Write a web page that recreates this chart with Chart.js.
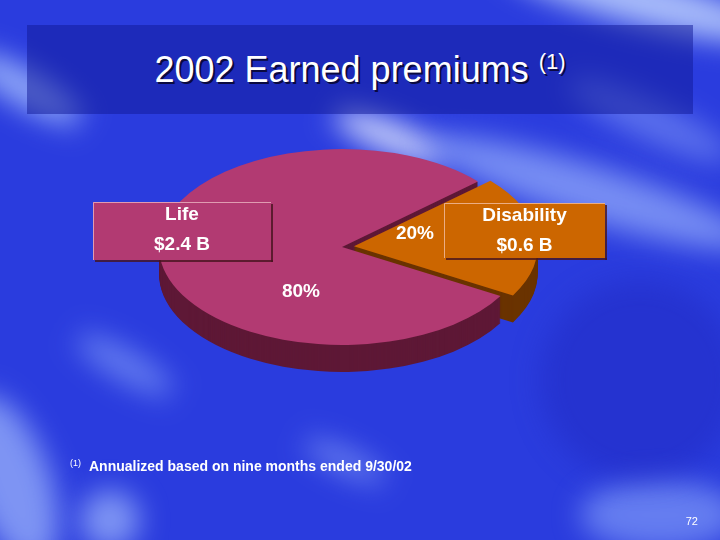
<!DOCTYPE html>
<html lang="en">
<head>
  <meta charset="UTF-8">
  <title>2002 Earned premiums</title>
  <script src="https://cdn.jsdelivr.net/npm/chart.js"></script>
  <style>
    html, body { margin: 0; padding: 0; }
    body { width: 720px; height: 540px; overflow: hidden; position: relative;
           font-family: "Liberation Sans", Arial, sans-serif; color: #fff;
           background: #2a3cde; }
    .glow { position: absolute; border-radius: 50%; filter: blur(14px); }
    #title-box { position: absolute; left: 27px; top: 25px; width: 666px; height: 89px;
                 background: rgba(16, 24, 150, 0.5); display: flex;
                 align-items: center; justify-content: center; }
    #title { font-size: 36px; text-shadow: 2px 2px 0 #0a0a40; white-space: nowrap; }
    #title sup { font-size: 22px; vertical-align: 0; position: relative; top: -13px; }
    #pie { position: absolute; left: 0; top: 0; }
    #note { position: absolute; left: 70px; top: 458px; font-size: 14px; font-weight: bold;
            line-height: 16px; white-space: nowrap; }
    #note sup { font-size: 9px; font-weight: normal; vertical-align: 0; position: relative;
                top: -5px; margin-right: 8px; }
    #page { position: absolute; right: 22px; top: 515px; font-size: 11px; }
  </style>
</head>
<body>
  <div class="glow" style="left:-40px; top:70px; width:130px; height:36px; background:rgba(170,195,255,.8); transform:rotate(30deg)"></div>
  <div class="glow" style="left:500px; top:-25px; width:280px; height:50px; background:rgba(190,210,255,.85); transform:rotate(14deg)"></div>
  <div class="glow" style="left:330px; top:122px; width:120px; height:30px; background:rgba(225,232,255,.9); transform:rotate(22deg)"></div>
  <div class="glow" style="left:420px; top:165px; width:340px; height:55px; background:rgba(160,185,255,.65); transform:rotate(17deg)"></div>
  <div class="glow" style="left:560px; top:100px; width:180px; height:40px; background:rgba(150,175,255,.45); transform:rotate(25deg)"></div>
  <div class="glow" style="left:-30px; top:390px; width:80px; height:180px; background:rgba(170,195,255,.65); transform:rotate(-20deg)"></div>
  <div class="glow" style="left:70px; top:350px; width:110px; height:30px; background:rgba(150,178,255,.55); transform:rotate(30deg)"></div>
  <div class="glow" style="left:80px; top:490px; width:60px; height:60px; background:rgba(170,195,255,.65)"></div>
  <div class="glow" style="left:300px; top:450px; width:90px; height:22px; background:rgba(160,185,255,.55); transform:rotate(25deg)"></div>
  <div class="glow" style="left:580px; top:480px; width:160px; height:70px; background:rgba(150,178,255,.55)"></div>
  <div class="glow" style="left:540px; top:280px; width:200px; height:200px; background:rgba(30,40,190,.45)"></div>

  <div id="title-box"><div id="title">2002 Earned premiums <sup>(1)</sup></div></div>

  <canvas id="pie" width="720" height="540"></canvas>

  <div id="note"><sup>(1)</sup>Annualized based on nine months ended 9/30/02</div>
  <div id="page">72</div>

  <script>
    const categories = ['Life', 'Disability'];
    const premiums = [2.4, 0.6];                 // $ billions
    const premiumLabels = ['$2.4 B', '$0.6 B'];
    const topColors = ['#b23a72', '#cc6600'];
    const sideColors = ['#5e1836', '#6a3300'];

    const TILT = 0.535;   // vertical squash of the pie
    const DEPTH = 27;     // thickness in px

    // label boxes and percent positions (layout only)
    const boxes = [
      { x: 93, y: 202, w: 178, h: 58 },
      { x: 444, y: 203, w: 161, h: 55 }
    ];
    const pctPos = [{ x: 301, y: 292 }, { x: 415, y: 234 }];

    function squash(ctx, cx, cy, dy) {
      ctx.translate(cx, cy + dy);
      ctx.scale(1, TILT);
      ctx.translate(-cx, -cy);
    }

    const pie3d = {
      id: 'pie3d',
      beforeDatasetsDraw(chart) {
        const ctx = chart.ctx;
        const arcs = chart.getDatasetMeta(0).data;
        const cx = arcs[0].x, cy = arcs[0].y;
        // side walls: stack darker copies downwards
        for (let d = DEPTH; d > 0; d--) {
          arcs.forEach((arc, i) => {
            const side = Object.create(arc);
            side.options = Object.assign({}, arc.options, { backgroundColor: sideColors[i] });
            ctx.save();
            squash(ctx, cx, cy, d);
            arc.draw.call(side, ctx);
            ctx.restore();
          });
        }
        ctx.save();
        squash(ctx, cx, cy, 0);
      },
      afterDatasetsDraw(chart) {
        const ctx = chart.ctx;
        ctx.restore();
        const total = premiums.reduce((a, b) => a + b, 0);
        ctx.save();
        ctx.font = 'bold 19px "Liberation Sans", Arial, sans-serif';
        ctx.textAlign = 'center';
        ctx.textBaseline = 'middle';
        ctx.fillStyle = '#fff';
        premiums.forEach((v, i) => {
          ctx.fillText(Math.round(v / total * 100) + '%', pctPos[i].x, pctPos[i].y);
        });
        boxes.forEach((b, i) => {
          ctx.fillStyle = topColors[i];
          ctx.fillRect(b.x, b.y, b.w, b.h);
          ctx.fillStyle = 'rgba(70,20,30,0.8)';
          ctx.fillRect(b.x + 2, b.y + b.h, b.w, 2);
          ctx.fillRect(b.x + b.w, b.y + 2, 2, b.h);
          ctx.strokeStyle = 'rgba(255,220,220,0.6)';
          ctx.lineWidth = 1;
          ctx.beginPath();
          ctx.moveTo(b.x + 0.5, b.y + b.h);
          ctx.lineTo(b.x + 0.5, b.y + 0.5);
          ctx.lineTo(b.x + b.w, b.y + 0.5);
          ctx.stroke();
          ctx.fillStyle = '#fff';
          const tx = b.x + b.w / 2;
          ctx.fillText(categories[i], tx, b.y + 13);
          ctx.fillText(premiumLabels[i], tx, b.y + 43);
        });
        ctx.restore();
      }
    };

    new Chart(document.getElementById('pie'), {
      type: 'pie',
      data: {
        labels: categories,
        datasets: [{
          data: premiums,
          backgroundColor: topColors,
          borderWidth: 0,
          offset: [0, 48]
        }]
      },
      options: {
        responsive: false,
        animation: false,
        events: [],
        devicePixelRatio: 1,
        rotation: 120,
        radius: 183,
        layout: { padding: { left: 0, right: 36, top: 0, bottom: 46 } },
        plugins: { legend: { display: false }, tooltip: { enabled: false } }
      },
      plugins: [pie3d]
    });
  </script>
</body>
</html>
